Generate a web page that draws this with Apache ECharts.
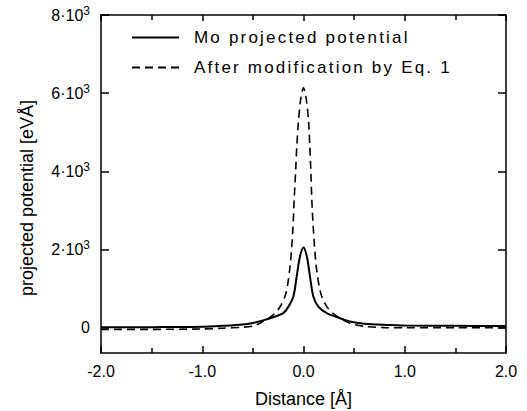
<!DOCTYPE html>
<html><head><meta charset="utf-8">
<script src="https://cdn.jsdelivr.net/npm/echarts@6/dist/echarts.min.js"></script>
<style>html,body{margin:0;padding:0;background:#fff}#c{width:527px;height:411px}</style>
</head><body><div id="c"></div>
<script>
// Mo projected potential (solid)
const solidX = [-2.0,-1.5,-1.0,-0.8,-0.6,-0.5,-0.4,-0.3,-0.2,-0.15,-0.1,-0.067,-0.035,0,0.033,0.064,0.097,0.146,0.23,0.33,0.46,0.6,0.85,1.0,1.5,2.0];
const solidY = [10,12,20,45,80,120,185,265,370,530,795,1310,1820,2050,1820,1310,795,538,369,267,154,100,69,55,45,40];
// After modification by Eq. 1 (dashed)
const dashX = [-2.0,-1.5,-1.0,-0.8,-0.6,-0.5,-0.43,-0.3,-0.23,-0.173,-0.133,-0.107,-0.092,-0.077,-0.066,-0.051,-0.028,0,0.028,0.051,0.062,0.072,0.082,0.1,0.126,0.17,0.23,0.31,0.46,0.6,0.8,1.0,1.5,2.0];
const dashY = [-45,-45,-35,-15,10,40,113,326,540,882,1564,2420,3274,4043,4641,5241,5838,6140,5838,5241,4641,4043,3274,2420,1564,882,538,326,113,30,0,-5,0,0];
const yTickValues = [0,2000,4000,6000,8000];
const yTickLabels = ['0','2·10','4·10','6·10','8·10'];
const xTickLabels = ['-2.0','-1.0','0.0','1.0','2.0'];
const seriesNames = ['Mo projected potential','After modification by Eq. 1'];

const pair = (xs, ys) => xs.map((x, i) => [x, ys[i]]);
const font = 'Liberation Sans';
const chart = echarts.init(document.getElementById('c'), null, {renderer: 'svg'});
const axisLine = {show: true, onZero: false, lineStyle: {color: '#000', width: 1.5}};
const tickStyle = {color: '#000', width: 1.5};
chart.setOption({
  animation: false,
  backgroundColor: '#fff',
  grid: {left: 101, right: 21, top: 15, bottom: 58, containLabel: false, outerBoundsMode: 'none'},
  legend: {
    left: 131, top: 29, padding: 0, orient: 'vertical', itemWidth: 47, itemHeight: 14, itemGap: 13,
    itemStyle: {opacity: 0},
    textStyle: {fontFamily: font, fontSize: 17, color: '#000', padding: [0, 0, 0, 10]},
    data: seriesNames
  },
  xAxis: [{
    type: 'value', min: -2, max: 2, interval: 1, position: 'bottom',
    axisLine, splitLine: {show: false},
    axisTick: {inside: true, length: 7, lineStyle: tickStyle},
    minorTick: {show: true, splitNumber: 2, length: 5, lineStyle: tickStyle},
    axisLabel: {margin: 10, fontFamily: font, fontSize: 16, color: '#000',
      formatter: v => xTickLabels[Math.round(v) + 2]},
    name: 'Distance [Å]', nameLocation: 'middle', nameGap: 37,
    nameTextStyle: {fontFamily: font, fontSize: 18, color: '#000'}
  }, {
    type: 'value', min: -2, max: 2, interval: 1, position: 'top',
    axisLine, splitLine: {show: false},
    axisTick: {inside: true, length: 6, lineStyle: tickStyle},
    minorTick: {show: true, splitNumber: 2, length: 5, lineStyle: tickStyle},
    axisLabel: {show: false}
  }],
  yAxis: [{
    type: 'value', min: -650, max: 8000, position: 'left',
    axisLine, splitLine: {show: false},
    axisTick: {inside: true, length: 8, customValues: yTickValues, lineStyle: tickStyle},
    axisLabel: {margin: 11, customValues: yTickValues, color: '#000',
      formatter: v => {
        const i = yTickValues.indexOf(v);
        if (i < 0) return '';
        return i === 0 ? '{a|0}' : '{a|' + yTickLabels[i] + '}{s|3}';
      },
      rich: {a: {fontFamily: font, fontSize: 16, color: '#000'},
             s: {fontFamily: font, fontSize: 12, color: '#000', verticalAlign: 'bottom', padding: [0, 0, 8, 0]}}},
    name: 'projected potential [eVÅ]', nameLocation: 'middle', nameGap: 65,
    nameTextStyle: {fontFamily: font, fontSize: 18, color: '#000', padding: [0, 28, 0, 0]}
  }, {
    type: 'value', min: -650, max: 8000, position: 'right',
    axisLine, splitLine: {show: false},
    axisTick: {inside: true, length: 8, customValues: yTickValues, lineStyle: tickStyle},
    axisLabel: {show: false}
  }],
  series: [{
    name: seriesNames[0], type: 'line', symbol: 'none', smooth: 0.3,
    data: pair(solidX, solidY), color: '#000',
    lineStyle: {color: '#000', width: 2}
  }, {
    name: seriesNames[1], type: 'line', symbol: 'none', smooth: 0.3,
    data: pair(dashX, dashY), color: '#000',
    lineStyle: {color: '#000', width: 1.6, type: [8, 5]}
  }]
});
function spaceLegend() {
  document.querySelectorAll('#c svg text').forEach(t => {
    if (seriesNames.includes(t.textContent)) t.setAttribute('letter-spacing', '2.2px');
  });
}
spaceLegend();
chart.on('finished', spaceLegend);
</script></body></html>
